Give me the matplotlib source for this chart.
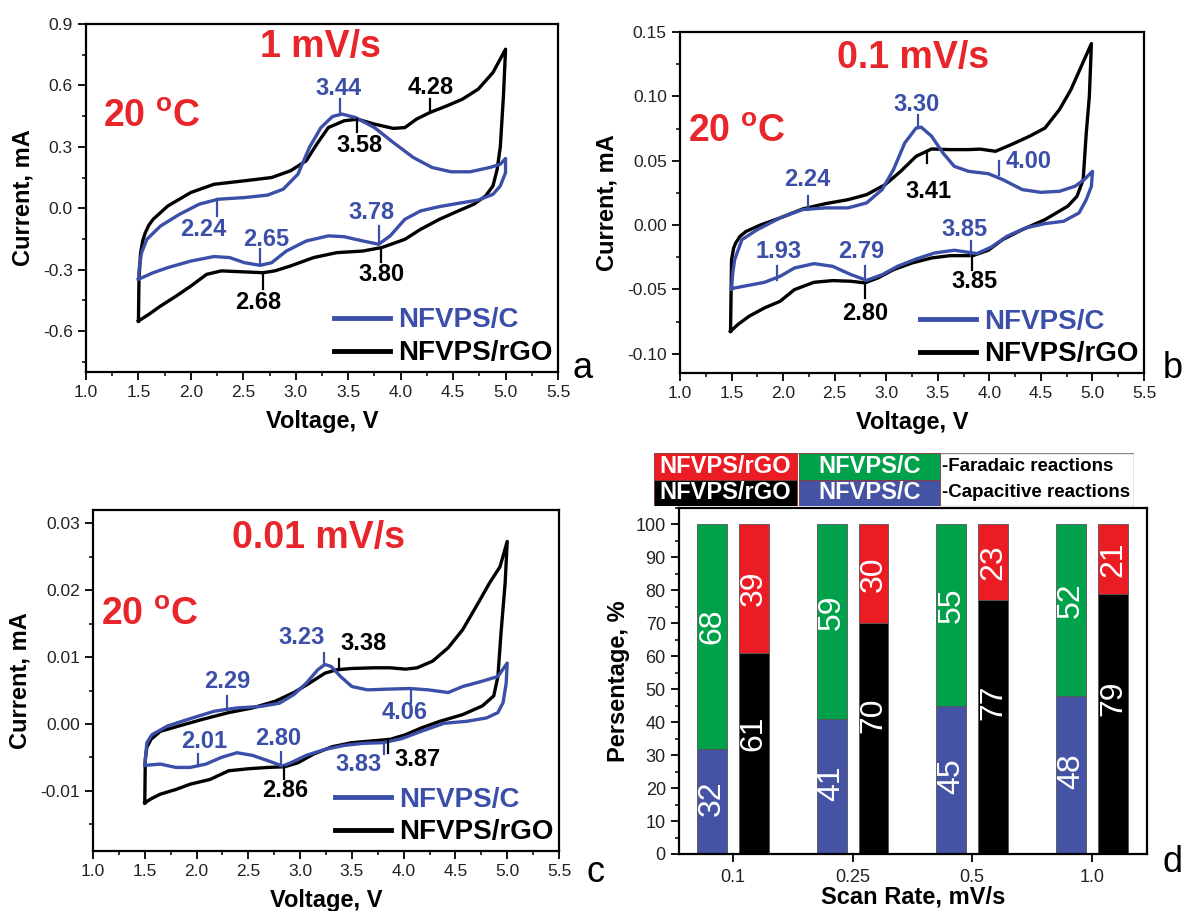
import matplotlib
matplotlib.use('Agg')
import matplotlib.pyplot as plt
from matplotlib.patches import Rectangle
from matplotlib.ticker import MultipleLocator, FormatStrFormatter
import numpy as np

plt.rcParams.update({
    'font.family': ['Liberation Sans', 'DejaVu Sans'],
    'axes.unicode_minus': False,
    'mathtext.fontset': 'custom',
    'mathtext.rm': 'Liberation Sans',
    'mathtext.bf': 'Liberation Sans:bold',
})

BLUE = '#3b4fa8'
RED_TXT = '#e8252b'
BAR_BLUE = '#4453a4'
BAR_GREEN = '#00a14b'
BAR_RED = '#ec1c24'

# ---- panel a : 1 mV/s ----
a_c_v = [1.50, 1.51, 1.53, 1.58, 1.71, 1.89, 2.08, 2.26, 2.51, 2.73, 2.88, 3.02, 3.13, 3.24, 3.35, 3.44,
         3.57, 3.75, 3.93, 4.12, 4.30, 4.48, 4.66, 4.85, 4.95, 5.00, 5.00, 4.95, 4.88, 4.74, 4.55, 4.37,
         4.19, 4.04, 3.90, 3.79, 3.64, 3.46, 3.31, 3.10, 2.91, 2.77, 2.66, 2.51, 2.37, 2.22, 2.00, 1.78,
         1.64, 1.50]
a_c_i = [-0.347, -0.280, -0.217, -0.152, -0.087, -0.030, 0.020, 0.044, 0.052, 0.064, 0.093, 0.166, 0.297,
         0.394, 0.448, 0.460, 0.443, 0.394, 0.321, 0.248, 0.199, 0.178, 0.178, 0.199, 0.215, 0.243, 0.174,
         0.109, 0.068, 0.040, 0.024, 0.008, -0.013, -0.054, -0.135, -0.176, -0.160, -0.139, -0.135, -0.160,
         -0.209, -0.266, -0.279, -0.266, -0.241, -0.236, -0.258, -0.290, -0.315, -0.347]
a_g_v = [1.50, 1.505, 1.52, 1.54, 1.565, 1.60, 1.64, 1.78, 2.00, 2.22, 2.51, 2.77, 2.95, 3.10, 3.20, 3.31,
         3.46, 3.59, 3.75, 3.93, 4.04, 4.15, 4.28, 4.44, 4.59, 4.74, 4.88, 5.00, 4.98, 4.95, 4.92, 4.88,
         4.81, 4.70, 4.55, 4.37, 4.19, 4.04, 3.82, 3.64, 3.39, 3.17, 2.95, 2.80, 2.69, 2.51, 2.29, 2.15,
         2.00, 1.86, 1.71, 1.60, 1.50]
a_g_i = [-0.551, -0.350, -0.220, -0.160, -0.120, -0.082, -0.054, 0.011, 0.077, 0.117, 0.134, 0.150, 0.183,
         0.232, 0.313, 0.394, 0.427, 0.435, 0.411, 0.390, 0.394, 0.435, 0.468, 0.500, 0.533, 0.582, 0.663,
         0.777, 0.550, 0.300, 0.190, 0.109, 0.060, 0.020, -0.013, -0.054, -0.103, -0.152, -0.192, -0.209,
         -0.217, -0.241, -0.282, -0.306, -0.315, -0.311, -0.306, -0.323, -0.380, -0.429, -0.478, -0.518,
         -0.551]
# (label, sample, tick V, tick I from, tick I to, text V, text I)
a_peaks = [('3.44', 'C', 3.42, 0.460, 0.533, 3.41, 0.585),
           ('4.28', 'G', 4.28, 0.468, 0.533, 4.29, 0.590),
           ('3.58', 'G', 3.58, 0.435, 0.370, 3.61, 0.305),
           ('2.24', 'C', 2.25, 0.044, -0.038, 2.12, -0.103),
           ('2.65', 'C', 2.66, -0.279, -0.200, 2.72, -0.152),
           ('3.78', 'C', 3.79, -0.176, -0.087, 3.72, -0.022),
           ('3.80', 'G', 3.81, -0.192, -0.265, 3.82, -0.323),
           ('2.68', 'G', 2.69, -0.315, -0.396, 2.64, -0.461)]

# ---- panel b : 0.1 mV/s ----
b_c_v = [1.50, 1.51, 1.53, 1.60, 1.75, 1.97, 2.19, 2.41, 2.63, 2.81, 2.96, 3.07, 3.18, 3.29, 3.34, 3.44,
         3.55, 3.66, 3.80, 3.99, 4.13, 4.32, 4.50, 4.68, 4.83, 4.92, 5.00, 4.99, 4.94, 4.87, 4.72, 4.54,
         4.35, 4.17, 4.02, 3.88, 3.66, 3.47, 3.29, 3.11, 2.96, 2.81, 2.66, 2.48, 2.30, 2.11, 1.97, 1.82,
         1.67, 1.53, 1.50]
b_c_i = [-0.0497, -0.0380, -0.0270, -0.0114, -0.0036, 0.0055, 0.0120, 0.0133, 0.0133, 0.0172, 0.0275,
         0.0430, 0.0638, 0.0754, 0.0760, 0.0690, 0.0560, 0.0456, 0.0417, 0.0399, 0.0353, 0.0275, 0.0254,
         0.0262, 0.0301, 0.0353, 0.0417, 0.0301, 0.0197, 0.0094, 0.0029, 0.0011, -0.0023, -0.0088, -0.0171,
         -0.0222, -0.0196, -0.0217, -0.0264, -0.0321, -0.0386, -0.0430, -0.0386, -0.0321, -0.0300, -0.0334,
         -0.0399, -0.0445, -0.0468, -0.0489, -0.0497]
b_g_v = [1.49, 1.50, 1.52, 1.54, 1.58, 1.64, 1.78, 1.97, 2.19, 2.41, 2.63, 2.81, 2.99, 3.14, 3.29, 3.44,
         3.62, 3.80, 3.91, 4.06, 4.21, 4.39, 4.54, 4.68, 4.79, 4.89, 4.99, 4.97, 4.94, 4.91, 4.85, 4.76,
         4.54, 4.32, 4.13, 3.99, 3.84, 3.62, 3.44, 3.25, 3.07, 2.92, 2.79, 2.66, 2.48, 2.30, 2.11, 1.97,
         1.82, 1.67, 1.56, 1.49]
b_g_i = [-0.0826, -0.0270, -0.0180, -0.0140, -0.0090, -0.0050, 0.0000, 0.0055, 0.0125, 0.0166, 0.0197,
         0.0236, 0.0314, 0.0417, 0.0534, 0.0591, 0.0586, 0.0586, 0.0590, 0.0573, 0.0624, 0.0690, 0.0754,
         0.0897, 0.1050, 0.1230, 0.1410, 0.1000, 0.0715, 0.0353, 0.0223, 0.0146, 0.0042, -0.0036, -0.0113,
         -0.0196, -0.0238, -0.0238, -0.0256, -0.0295, -0.0347, -0.0411, -0.0450, -0.0437, -0.0432, -0.0445,
         -0.0502, -0.0593, -0.0644, -0.0709, -0.0774, -0.0826]
b_peaks = [('3.30', 'C', 3.31, 0.0754, 0.0858, 3.29, 0.0935),
           ('3.41', 'G', 3.40, 0.0573, 0.0482, 3.41, 0.0262),
           ('4.00', 'C', 4.09, 0.0391, 0.0495, 4.38, 0.0495),
           ('2.24', 'C', 2.24, 0.0120, 0.0223, 2.23, 0.0353),
           ('1.93', 'C', 1.94, -0.0424, -0.0320, 1.96, -0.0204),
           ('2.79', 'C', 2.79, -0.0437, -0.0320, 2.76, -0.0204),
           ('3.85', 'C', 3.82, -0.0243, -0.0127, 3.76, -0.0036),
           ('3.85', 'G', 3.83, -0.0243, -0.0347, 3.86, -0.0437),
           ('2.80', 'G', 2.79, -0.0450, -0.0567, 2.80, -0.0684)]

# ---- panel c : 0.01 mV/s ----
c_c_v = [1.50, 1.51, 1.52, 1.57, 1.72, 1.94, 2.17, 2.39, 2.61, 2.80, 2.94, 3.06, 3.17, 3.24, 3.30, 3.39,
         3.50, 3.65, 3.83, 4.06, 4.24, 4.43, 4.57, 4.76, 4.91, 5.00, 4.99, 4.96, 4.91, 4.80, 4.61, 4.39,
         4.17, 3.98, 3.80, 3.61, 3.43, 3.24, 3.06, 2.91, 2.83, 2.69, 2.54, 2.39, 2.24, 2.09, 1.94, 1.80,
         1.65, 1.50]
c_c_i = [-0.0062, -0.0045, -0.0028, -0.0016, -0.0003, 0.0008, 0.0019, 0.0024, 0.0026, 0.0031, 0.0044,
         0.0061, 0.0081, 0.0089, 0.0086, 0.0071, 0.0056, 0.0051, 0.0052, 0.0053, 0.0051, 0.0047, 0.0056,
         0.0064, 0.0071, 0.0091, 0.0061, 0.0032, 0.0017, 0.0009, 0.0004, 0.0001, -0.0011, -0.0022, -0.0028,
         -0.0029, -0.0032, -0.0038, -0.0047, -0.0058, -0.0063, -0.0055, -0.0047, -0.0043, -0.0050, -0.0060,
         -0.0065, -0.0065, -0.0060, -0.0062]
c_g_v = [1.50, 1.505, 1.52, 1.56, 1.65, 1.83, 2.06, 2.31, 2.54, 2.76, 2.94, 3.09, 3.24, 3.35, 3.50, 3.72,
         3.87, 4.02, 4.13, 4.28, 4.43, 4.57, 4.72, 4.83, 4.93, 5.00, 4.98, 4.94, 4.91, 4.87, 4.76, 4.57,
         4.35, 4.17, 4.02, 3.87, 3.72, 3.50, 3.31, 3.13, 2.98, 2.85, 2.69, 2.50, 2.31, 2.13, 1.94, 1.80,
         1.65, 1.56, 1.50]
c_g_i = [-0.0118, -0.0053, -0.0035, -0.0023, -0.0011, -0.0003, 0.0007, 0.0017, 0.0024, 0.0034, 0.0047,
         0.0061, 0.0076, 0.0081, 0.0083, 0.0084, 0.0084, 0.0082, 0.0084, 0.0094, 0.0114, 0.0141, 0.0181,
         0.0211, 0.0235, 0.0273, 0.0211, 0.0136, 0.0071, 0.0042, 0.0027, 0.0014, 0.0004, -0.0006, -0.0016,
         -0.0023, -0.0025, -0.0028, -0.0034, -0.0045, -0.0058, -0.0064, -0.0065, -0.0067, -0.0070, -0.0083,
         -0.0090, -0.0098, -0.0105, -0.0112, -0.0118]
c_peaks = [('3.23', 'C', 3.23, 0.0089, 0.0106, 3.01, 0.0129),
           ('3.38', 'G', 3.38, 0.0081, 0.0097, 3.61, 0.0121),
           ('2.29', 'C', 2.29, 0.0022, 0.0042, 2.30, 0.0064),
           ('4.06', 'C', 4.07, 0.0052, 0.0032, 4.01, 0.0017),
           ('2.01', 'C', 2.01, -0.0063, -0.0045, 2.07, -0.0026),
           ('2.80', 'C', 2.82, -0.0063, -0.0042, 2.79, -0.0022),
           ('3.83', 'C', 3.81, -0.0028, -0.0045, 3.56, -0.0060),
           ('3.87', 'G', 3.85, -0.0023, -0.0043, 4.13, -0.0053),
           ('2.86', 'G', 2.84, -0.0064, -0.0083, 2.86, -0.0100)]

# ---- panel d : capacitive / faradaic split ----
rates = ['0.1', '0.25', '0.5', '1.0']
c_cap = [32, 41, 45, 48]
c_far = [68, 59, 55, 52]
g_cap = [61, 70, 77, 79]
g_far = [39, 30, 23, 21]

W, H = 1184, 911
fig = plt.figure(figsize=(W / 100, H / 100), dpi=100)


def px_axes(x0, y0, x1, y1):
    return fig.add_axes([x0 / W, 1 - y1 / H, (x1 - x0) / W, (y1 - y0) / H])


def style(ax, lsize=12.5):
    for s in ax.spines.values():
        s.set_linewidth(1.6)
    ax.tick_params(which='major', direction='out', length=5.5, width=1.3, pad=4,
                   labelsize=lsize, labelcolor='#222222')
    ax.tick_params(which='minor', direction='out', length=3, width=1.1)


def cv_panel(ax, cv, ci, gv, gi, peaks, rate, ylim, ystep, yfmt, temp_xy, rate_xy):
    hg, = ax.plot(gv, gi, color='black', lw=2.4, label='NFVPS/rGO', solid_joinstyle='round')
    hc, = ax.plot(cv, ci, color=BLUE, lw=2.4, label='NFVPS/C', solid_joinstyle='round')
    for txt, who, v, i0, i1, vt, it in peaks:
        col = BLUE if who == 'C' else 'black'
        ax.plot([v, v], [i0, i1], color=col, lw=1.6)
        ax.text(vt, it, txt, color=col, fontsize=17, fontweight='bold',
                ha='center', va='center')
    ax.text(rate_xy[0], rate_xy[1], rate, transform=ax.transAxes, color=RED_TXT,
            fontsize=27, fontweight='bold', ha='center', va='center')
    ax.text(temp_xy[0], temp_xy[1], r'20 $^{\mathbf{o}}$C', transform=ax.transAxes,
            color=RED_TXT, fontsize=27, fontweight='bold', ha='left', va='center')
    ax.set_xlim(1.0, 5.5)
    ax.set_ylim(*ylim)
    ax.xaxis.set_major_locator(MultipleLocator(0.5))
    ax.xaxis.set_minor_locator(MultipleLocator(0.25))
    ax.xaxis.set_major_formatter(FormatStrFormatter('%.1f'))
    ax.yaxis.set_major_locator(MultipleLocator(ystep))
    ax.yaxis.set_minor_locator(MultipleLocator(ystep / 2))
    ax.yaxis.set_major_formatter(FormatStrFormatter(yfmt))
    ax.set_xlabel('Voltage, V', fontsize=17, fontweight='bold', labelpad=7)
    ax.set_ylabel('Current, mA', fontsize=17, fontweight='bold', labelpad=6)
    style(ax)
    leg = ax.legend(handles=[hc, hg], loc='lower right', frameon=False,
                    prop={'weight': 'bold', 'size': 20}, labelcolor='linecolor',
                    handlelength=2.0, handletextpad=0.3, borderaxespad=0.1,
                    borderpad=0.1, labelspacing=0.25)
    for ln in leg.get_lines():
        ln.set_linewidth(3.5)


ax_a = px_axes(86, 24, 558, 372)
cv_panel(ax_a, a_c_v, a_c_i, a_g_v, a_g_i, a_peaks, '1 mV/s', (-0.8, 0.9), 0.3, '%.1f',
         (0.036, 0.733), (0.496, 0.934))
ax_b = px_axes(680, 32, 1144, 373)
cv_panel(ax_b, b_c_v, b_c_i, b_g_v, b_g_i, b_peaks, '0.1 mV/s', (-0.115, 0.15), 0.05, '%.2f',
         (0.017, 0.707), (0.502, 0.924))
ax_c = px_axes(93, 510, 559, 851)
cv_panel(ax_c, c_c_v, c_c_i, c_g_v, c_g_i, c_peaks, '0.01 mV/s', (-0.019, 0.032), 0.01, '%.2f',
         (0.018, 0.692), (0.483, 0.918))

# ---- bar panel ----
ax_d = px_axes(679, 508, 1147, 854)
x = np.arange(len(rates))
w, off = 0.25, 0.175
edge = dict(edgecolor='#555555', linewidth=0.6)
ax_d.bar(x - off, c_cap, w, color=BAR_BLUE, **edge)
ax_d.bar(x - off, c_far, w, bottom=c_cap, color=BAR_GREEN, **edge)
ax_d.bar(x + off, g_cap, w, color='black', **edge)
ax_d.bar(x + off, g_far, w, bottom=g_cap, color=BAR_RED, **edge)
for k in range(len(rates)):
    segs = [(x[k] - off, c_cap[k] / 2 + 1, c_cap[k]),
            (x[k] - off, c_cap[k] + c_far[k] / 2 + 3, c_far[k]),
            (x[k] + off, g_cap[k] * 0.6, g_cap[k]),
            (x[k] + off, g_cap[k] + g_far[k] / 2, g_far[k])]
    for xx, yy, val in segs:
        ax_d.text(xx, yy, str(val), rotation=90, color='white', fontsize=23,
                  ha='center', va='center')
ax_d.set_xlim(-0.45, 3.46)
ax_d.set_ylim(0, 105)
ax_d.set_xticks(x)
ax_d.set_xticklabels(rates)
ax_d.yaxis.set_major_locator(MultipleLocator(10))
ax_d.yaxis.set_minor_locator(MultipleLocator(5))
ax_d.set_xlabel('Scan Rate, mV/s', fontsize=17, fontweight='bold', labelpad=0)
ax_d.set_ylabel('Persentage, %', fontsize=17, fontweight='bold', labelpad=4)
style(ax_d, 13)
ax_d.tick_params(axis='x', which='major', pad=5)

# table-like legend above panel d
lg = px_axes(654, 453, 1134, 506)
lg.set_xlim(0, 480)
lg.set_ylim(0, 53)
lg.axis('off')
lg.add_patch(Rectangle((0, 0), 480, 53, facecolor='white', edgecolor='#888888', lw=1))
cells = [(0, 26.5, 143, BAR_RED, 'NFVPS/rGO'), (145, 26.5, 141, BAR_GREEN, 'NFVPS/C'),
         (0, 0, 143, 'black', 'NFVPS/rGO'), (145, 0, 141, BAR_BLUE, 'NFVPS/C')]
for cx, cy, cw, col, txt in cells:
    lg.add_patch(Rectangle((cx, cy), cw, 26.5, facecolor=col, edgecolor='#8a3a3a', lw=0.6))
    lg.text(cx + cw / 2, cy + 13.25, txt, color='white', fontsize=17, fontweight='bold',
            ha='center', va='center')
lg.text(288, 39.75, '-Faradaic reactions', fontsize=13.5, fontweight='bold', ha='left', va='center')
lg.text(288, 13.25, '-Capacitive reactions', fontsize=13.5, fontweight='bold', ha='left', va='center')

# panel letters
for lx, ly, l in [(583, 368, 'a'), (1173, 368, 'b'), (595, 872, 'c'), (1173, 862, 'd')]:
    fig.text(lx / W, 1 - ly / H, l, fontsize=26, ha='center', va='center')

fig.savefig('out.png', dpi=100)
